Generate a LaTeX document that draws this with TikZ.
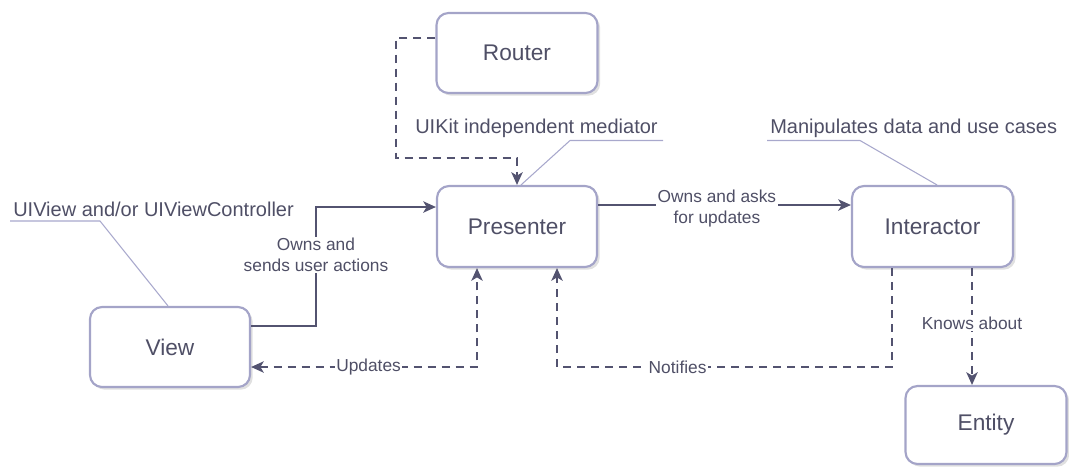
\documentclass[tikz,border=0pt]{standalone}
\usepackage{fontspec}
\setmainfont{Liberation Sans}
\usetikzlibrary{arrows.meta,shadows}
\definecolor{linec}{HTML}{535370}
\definecolor{textc}{HTML}{4F4F66}
\definecolor{boxc}{HTML}{A4A4C8}
\definecolor{leadc}{HTML}{A8A8CC}
\tikzset{
  box/.style={draw=boxc, line width=1.6pt, rounded corners=9pt, fill=white,
    minimum width=120pt, minimum height=60pt, inner sep=0pt, text=textc,
    font=\fontsize{17}{20}\selectfont,
    drop shadow={shadow xshift=2pt, shadow yshift=-2pt, opacity=0.2, fill=black!60}},
  conn/.style={draw=linec, line width=1.5pt, -{Stealth[length=9.5pt,width=8.5pt,inset=2.5pt]}},
  dconn/.style={conn, dash pattern=on 6pt off 4.5pt},
  elabel/.style={fill=white, text=textc, inner sep=1pt, align=center,
    font=\fontsize{13}{15.5}\selectfont},
  note/.style={text=textc, inner sep=0pt, anchor=west, font=\fontsize{15}{18}\selectfont},
  lead/.style={draw=leadc, line width=0.8pt},
}
\begin{document}
\begin{tikzpicture}[x=0.75pt,y=-0.75pt]
\useasboundingbox (0,0) rectangle (1069,469);
\node[box, minimum width=120.75pt, minimum height=60pt] (Router) at (517,53) {Router};
\node[box, minimum width=120pt, minimum height=60.75pt] (Presenter) at (517,226.5) {Presenter};
\node[box, minimum width=120.75pt, minimum height=60.75pt] (Interactor) at (932.5,226.5) {Interactor};
\node[box, minimum width=120pt, minimum height=60pt] (View) at (170,347) {View};
\node[box, minimum width=120.75pt, minimum height=58.5pt] (Entity) at (986,425) {Entity};

% annotations
\node[note] (nUIKit) at (415,128) {UIKit independent mediator};
\node[note] (nView) at (13,209) {UIView and/or UIViewController};
\node[note] (nInter) at (770,128) {Manipulates data and use cases};
\draw[lead] (663,140.5) -- (570,140.5) -- (Presenter.north -| 521,0);
\draw[lead] (10,221) -- (100,221) -- (View.north -| 168,0);
\draw[lead] (767,140.5) -- (860,140.5) -- (Interactor.north -| 937,0);

% connectors
\draw[dconn] (Router.west |- 0,38) -- (396,38) -- (396,158) -- (517,158) -- (Presenter.north);
\draw[conn] (View.east |- 0,326) -- (316,326) -- (316,207)
  node[elabel, pos=0.6] (lOwns) {Owns and\\sends user actions}
  -- (Presenter.west |- 0,207);
\draw[conn] (Presenter.east |- 0,205) -- (Interactor.west |- 0,205)
  node[elabel, pos=0.47, yshift=-2.5pt] (lAsks) {Owns and asks\\for updates};
\draw[dconn, {Stealth[length=9.5pt,width=8.5pt,inset=2.5pt]}-{Stealth[length=9.5pt,width=8.5pt,inset=2.5pt]}]
  (View.east |- 0,367) -- (477,367) node[elabel, pos=0.52] (lUpd) {Updates}
  -- (Presenter.south -| 477,0);
\draw[dconn] (Interactor.south -| 892,0) -- (892,367) -- (557,367)
  node[elabel, pos=0.64] (lNot) {Notifies}
  -- (Presenter.south -| 557,0);
\draw[dconn] (Interactor.south -| 972,0) -- (Entity.north -| 972,0)
  node[elabel, pos=0.47] (lKnows) {Knows about};
\end{tikzpicture}
\end{document}
